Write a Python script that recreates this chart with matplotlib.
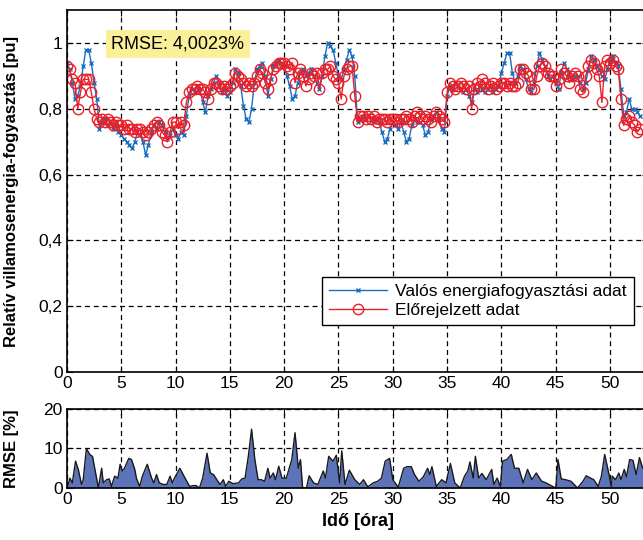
import numpy as np
import matplotlib.pyplot as plt
from matplotlib.ticker import FuncFormatter

plt.rcParams['font.family'] = ['Liberation Sans', 'DejaVu Sans']

# time axis, 15 minute steps (hours)
t = np.arange(0, 53, 0.25)

# measured consumption [pu]
actual = [
    0.94, 0.92, 0.88, 0.83, 0.84, 0.87, 0.93, 0.98, 0.98, 0.94, 0.88, 0.83,
    0.74, 0.76, 0.77, 0.75, 0.76, 0.74, 0.75, 0.73, 0.72, 0.71, 0.70, 0.69,
    0.68, 0.70, 0.73, 0.72, 0.70, 0.66, 0.69, 0.73, 0.75, 0.74, 0.76, 0.75,
    0.73, 0.71, 0.72, 0.74, 0.72, 0.71, 0.73, 0.72, 0.78, 0.84, 0.86, 0.85,
    0.87, 0.86, 0.82, 0.79, 0.84, 0.86, 0.88, 0.90, 0.87, 0.85, 0.86, 0.84,
    0.85, 0.88, 0.92, 0.91, 0.87, 0.81, 0.77, 0.76, 0.80, 0.88, 0.92, 0.93,
    0.94, 0.90, 0.84, 0.89, 0.93, 0.94, 0.95, 0.94, 0.93, 0.90, 0.87, 0.83,
    0.84, 0.88, 0.91, 0.92, 0.90, 0.91, 0.92, 0.90, 0.88, 0.86, 0.90, 0.96,
    1.00, 0.99, 0.98, 0.94, 0.90, 0.89, 0.92, 0.95, 0.98, 0.96, 0.90, 0.76,
    0.77, 0.78, 0.77, 0.78, 0.77, 0.76, 0.77, 0.76, 0.73, 0.70, 0.71, 0.74,
    0.76, 0.75, 0.74, 0.76, 0.73, 0.70, 0.71, 0.75, 0.77, 0.76, 0.76, 0.75,
    0.72, 0.73, 0.77, 0.78, 0.79, 0.77, 0.74, 0.73, 0.84, 0.87, 0.86, 0.88,
    0.87, 0.86, 0.85, 0.86, 0.84, 0.82, 0.86, 0.85, 0.87, 0.86, 0.85, 0.86,
    0.87, 0.85, 0.86, 0.87, 0.91, 0.94, 0.97, 0.97, 0.91, 0.88, 0.90, 0.93,
    0.92, 0.89, 0.86, 0.85, 0.88, 0.93, 0.97, 0.95, 0.93, 0.90, 0.89, 0.90,
    0.88, 0.86, 0.91, 0.94, 0.92, 0.90, 0.89, 0.90, 0.90, 0.88, 0.86, 0.88,
    0.92, 0.96, 0.95, 0.93, 0.92, 0.90, 0.89, 0.92, 0.95, 0.96, 0.94, 0.93,
    0.86, 0.78, 0.79, 0.83, 0.80, 0.80, 0.79, 0.78,
]

# forecast [pu]
forecast = [
    0.93, 0.92, 0.89, 0.88, 0.80, 0.85, 0.89, 0.89, 0.89, 0.85, 0.80, 0.77,
    0.76, 0.77, 0.76, 0.77, 0.76, 0.75, 0.76, 0.75, 0.75, 0.74, 0.75, 0.74,
    0.74, 0.73, 0.74, 0.74, 0.73, 0.72, 0.73, 0.74, 0.75, 0.76, 0.75, 0.73,
    0.72, 0.70, 0.73, 0.76, 0.76, 0.74, 0.76, 0.75, 0.82, 0.85, 0.86, 0.86,
    0.87, 0.86, 0.86, 0.85, 0.83, 0.86, 0.88, 0.88, 0.87, 0.86, 0.87, 0.86,
    0.87, 0.88, 0.91, 0.90, 0.89, 0.88, 0.87, 0.88, 0.87, 0.88, 0.90, 0.92,
    0.91, 0.88, 0.86, 0.89, 0.92, 0.93, 0.94, 0.94, 0.94, 0.93, 0.92, 0.94,
    0.88, 0.91, 0.92, 0.90, 0.87, 0.89, 0.91, 0.90, 0.91, 0.86, 0.91, 0.92,
    0.92, 0.93, 0.90, 0.89, 0.88, 0.83, 0.90, 0.92, 0.93, 0.93, 0.84, 0.76,
    0.78, 0.78, 0.77, 0.78, 0.77, 0.78, 0.76, 0.77, 0.77, 0.77, 0.76, 0.77,
    0.77, 0.77, 0.76, 0.77, 0.77, 0.78, 0.77, 0.76, 0.78, 0.79, 0.78, 0.77,
    0.78, 0.77, 0.76, 0.78, 0.79, 0.78, 0.77, 0.76, 0.85, 0.88, 0.87, 0.86,
    0.87, 0.88, 0.87, 0.86, 0.87, 0.80, 0.86, 0.88, 0.87, 0.89, 0.88, 0.86,
    0.87, 0.88, 0.86, 0.87, 0.88, 0.88, 0.87, 0.88, 0.87, 0.87, 0.88, 0.92,
    0.92, 0.91, 0.90, 0.86, 0.86, 0.90, 0.93, 0.94, 0.93, 0.91, 0.90, 0.90,
    0.87, 0.89, 0.92, 0.91, 0.90, 0.88, 0.90, 0.91, 0.90, 0.86, 0.85, 0.90,
    0.93, 0.95, 0.94, 0.92, 0.90, 0.82, 0.93, 0.95, 0.94, 0.95, 0.93, 0.92,
    0.83, 0.75, 0.77, 0.78, 0.76, 0.75, 0.73, 0.74,
]

# hourly RMSE curve
rmse_t = [0.03, 0.28, 0.5, 0.8, 1.05, 1.35, 1.5, 1.8, 2.1, 2.36, 2.9, 3.2, 3.35,
          3.65, 3.9, 4.1, 4.4, 4.7, 4.9, 5.1, 5.3, 5.7, 5.95, 6.25, 6.4, 6.7,
          6.95, 7.4, 7.8, 8.0, 8.25, 8.5, 8.86, 9.2, 9.5, 9.7, 9.9, 10.4, 10.7,
          11.3, 11.6, 11.9, 12.2, 12.5, 12.9, 13.2, 13.5, 13.8, 14.1, 14.4,
          14.6, 14.9, 15.3, 15.8, 16.1, 16.4, 16.7, 17.0, 17.3, 17.6, 17.9,
          18.2, 18.5, 18.7, 19.0, 19.2, 19.5, 19.8, 20.2, 20.7, 21.0, 21.3,
          21.5, 21.7, 22.05, 22.3, 22.7, 23.1, 23.6, 23.8, 24.1, 24.5, 24.8,
          25.1, 25.3, 25.6, 26.0, 26.5, 26.95, 27.3, 27.7, 28.2, 28.6, 28.95,
          29.3, 29.7, 30.0, 30.5, 31.0, 31.3, 31.7, 32.0, 32.4, 32.8, 33.2,
          33.4, 33.6, 34.0, 34.5, 34.9, 35.3, 35.7, 36.2, 36.6, 36.9, 37.1,
          37.4, 37.6, 37.9, 38.2, 38.6, 39.1, 39.3, 39.6, 39.9, 40.1, 40.5,
          40.9, 41.2, 41.6, 42.0, 42.4, 42.8, 43.2, 43.7, 44.1, 44.7, 45.0,
          45.2, 45.5, 45.9, 46.4, 47.0, 47.5, 47.8, 48.2, 48.5, 48.9, 49.2,
          49.5, 49.9, 50.1, 50.2, 50.5, 50.8, 51.0, 51.3, 51.5, 51.8, 52.1,
          52.4, 52.7, 53.0]
rmse_val = [0.0, 2.5, 1.3, 6.8, 4.7, 0.9, 2.0, 10.0, 8.5, 8.0, 0.0, 5.0, 1.3,
            2.1, 2.3, 0.4, 3.0, 2.5, 6.0, 4.3, 5.0, 7.5, 7.2, 4.7, 2.5, 0.4,
            3.0, 6.0, 2.5, 1.3, 3.4, 1.3, 0.9, 0.9, 3.0, 1.3, 2.5, 5.0, 3.4,
            0.4, 0.6, 0.6, 0.0, 2.5, 8.8, 3.8, 3.4, 2.1, 0.9, 2.1,
            0.4, 1.7, 1.1, 1.3, 2.3, 2.5, 8.0, 14.9, 7.2, 2.1, 2.1,
            1.7, 5.0, 2.5, 3.8, 2.1, 5.5, 2.5, 2.5, 7.2, 14.0, 5.0,
            7.2, 0.0, 0.0, 3.1, 1.3, 0.9, 4.3, 2.5, 8.0, 6.8, 8.3,
            1.3, 9.4, 0.9, 4.5, 2.1, 0.9, 2.1, 0.3, 1.3, 1.7, 2.5,
            6.8, 7.5, 2.1, 0.2, 5.0, 5.4, 5.4, 3.4, 1.7, 2.8, 5.0,
            3.4, 5.4, 0.4, 2.1, 1.3, 6.2, 1.3, 0.0, 3.0, 4.3, 6.6,
            2.5, 8.0, 2.5, 3.7, 2.1, 4.7, 0.9, 2.5, 0.4, 6.8, 7.2,
            8.5, 5.0, 5.0, 1.3, 4.7, 2.1, 3.8, 1.7, 1.3, 0.4, 0.0,
            7.2, 2.3, 2.1, 1.7, 0.0, 1.7, 3.1, 2.5, 2.1, 0.4, 3.0,
            8.5, 3.4, 0.4, 3.0, 2.1, 3.8, 2.1, 4.7, 2.8, 7.2, 7.0,
            3.4, 7.7, 5.0]

blue = '#1a6ec0'
red = '#e8202a'

fig = plt.figure(figsize=(6.43, 5.40), dpi=100)
ax = fig.add_axes([0.104, 0.311, 0.904, 0.670])
ax2 = fig.add_axes([0.104, 0.0963, 0.904, 0.1463])

comma = FuncFormatter(lambda v, p: ('%g' % v).replace('.', ','))

ax.plot(t, actual, color=blue, lw=1.0, marker='x', ms=3.5, mew=1.0,
        label='Valós energiafogyasztási adat')
ax.plot(t, forecast, color=red, lw=1.0, marker='o', ms=7.5, mfc='none', mew=1.0,
        label='Előrejelzett adat')

ax.set_xlim(0, 53.5)
ax.set_ylim(0, 1.1)
ax.set_xticks(np.arange(0, 55, 5))
ax.set_yticks([0, 0.2, 0.4, 0.6, 0.8, 1.0])
ax.yaxis.set_major_formatter(comma)
ax.grid(True, color='black', ls=(0, (4, 3)), lw=0.9)
ax.set_ylabel('Relatív villamosenergia-fogyasztás [pu]', fontsize=12,
              fontweight='bold')
ax.text(10.2, 0.998, 'RMSE: 4,0023%', fontsize=13, ha='center', va='center',
        bbox=dict(boxstyle='square,pad=0.3', fc='#fbf09a', ec='none'))
ax.legend(loc='lower right', bbox_to_anchor=(0.99, 0.105), fontsize=12.5,
          frameon=True, fancybox=False, edgecolor='black', framealpha=1,
          handlelength=3.3, borderpad=0.4, labelspacing=0.25,
          handletextpad=0.5)

ax2.fill_between(rmse_t, rmse_val, 0, color='#5d73b9', lw=0)
ax2.plot(rmse_t, rmse_val, color='#1a1a1a', lw=1.0)
ax2.set_xlim(0, 53.5)
ax2.set_ylim(0, 20)
ax2.set_xticks(np.arange(0, 55, 5))
ax2.set_yticks([0, 10, 20])
ax2.grid(True, color='black', ls=(0, (4, 3)), lw=0.9)
ax2.set_ylabel('RMSE [%]', fontsize=12, fontweight='bold')
ax2.set_xlabel('Idő [óra]', fontsize=13, fontweight='bold', labelpad=4)

for a in (ax, ax2):
    a.tick_params(direction='in', labelsize=12.5, length=4, top=True,
                  right=True, pad=3)
    for s in a.spines.values():
        s.set_linewidth(1.2)
    a.set_axisbelow(True)

ax.yaxis.set_label_coords(-0.083, 0.5)
ax2.yaxis.set_label_coords(-0.083, 0.5)

fig.savefig('out.png', dpi=100)
